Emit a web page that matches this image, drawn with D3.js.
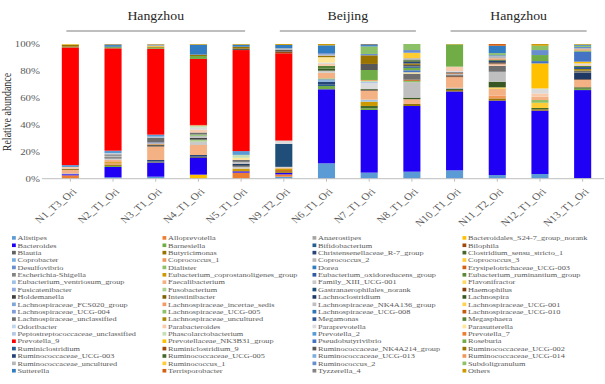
<!DOCTYPE html>
<html>
<head>
<meta charset="utf-8">
<script src="https://cdn.jsdelivr.net/npm/d3@7"></script>
<style>
  body { margin: 0; background: #fff; }
  svg text { font-family: "Liberation Serif", "Times New Roman", serif; }
</style>
</head>
<body>
<svg id="chart" width="605" height="384"></svg>
<script>
// samples along the x axis
const samples = ["N1_T3_Ori", "N2_T1_Ori", "N3_T1_Ori", "N4_T1_Ori", "N5_T1_Ori", "N9_T2_Ori", "N6_T1_Ori",
  "N7_T1_Ori", "N8_T1_Ori", "N10_T1_Ori", "N11_T2_Ori", "N12_T1_Ori", "N13_T1_Ori"];

// city groups drawn above the bars
const groupNames = ["Hangzhou", "Beijing", "Hangzhou"];
const groupFirst = ["N1_T3_Ori", "N9_T2_Ori", "N10_T1_Ori"];
const groupLast = ["N5_T1_Ori", "N8_T1_Ori", "N13_T1_Ori"];

const yTicks = [0, 0.2, 0.4, 0.6, 0.8, 1];

// genera, in legend and stacking order (first one at the bottom)
const taxa = ["Alistipes", "Alloprevotella", "Anaerostipes", "Bacteroidales_S24-7_group_norank",
  "Bacteroides", "Barnesiella", "Bifidobacterium", "Bilophila",
  "Blautia", "Butyricimonas", "Christensenellaceae_R-7_group", "Clostridium_sensu_stricto_1",
  "Coprobacter", "Coprococcus_1", "Coprococcus_2", "Coprococcus_3",
  "Desulfovibrio", "Dialister", "Dorea", "Erysipelotrichaceae_UCG-003",
  "Escherichia-Shigella", "Eubacterium_coprostanoligenes_group", "Eubacterium_oxidoreducens_group", "Eubacterium_ruminantium_group",
  "Eubacterium_ventriosum_group", "Faecalibacterium", "Family_XIII_UCG-001", "Flavonifractor",
  "Fusicatenibacter", "Fusobacterium", "Gastranaerophilales_norank", "Haemophilus",
  "Holdemanella", "Intestinibacter", "Lachnoclostridium", "Lachnospira",
  "Lachnospiraceae_FCS020_group", "Lachnospiraceae_incertae_sedis", "Lachnospiraceae_NK4A136_group", "Lachnospiraceae_UCG-001",
  "Lachnospiraceae_UCG-004", "Lachnospiraceae_UCG-005", "Lachnospiraceae_UCG-008", "Lachnospiraceae_UCG-010",
  "Lachnospiraceae_unclassified", "Lachnospiraceae_uncultured", "Megamonas", "Megasphaera",
  "Odoribacter", "Parabacteroides", "Paraprevotella", "Parasutterella",
  "Peptostreptococcaceae_unclassified", "Phascolarctobacterium", "Prevotella_2", "Prevotella_7",
  "Prevotella_9", "Prevotellaceae_NK3B31_group", "Pseudobutyrivibrio", "Roseburia",
  "Ruminiclostridium", "Ruminiclostridium_9", "Ruminococcaceae_NK4A214_group", "Ruminococcaceae_UCG-002",
  "Ruminococcaceae_UCG-003", "Ruminococcaceae_UCG-005", "Ruminococcaceae_UCG-013", "Ruminococcaceae_UCG-014",
  "Ruminococcaceae_uncultured", "Ruminococcus_1", "Ruminococcus_2", "Subdoligranulum",
  "Sutterella", "Terrisporobacter", "Tyzzerella_4", "Others"];

const taxaColors = ["#5B9BD5", "#ED7D31", "#A5A5A5", "#FFC000",
  "#1F00F5", "#70AD47", "#255E91", "#9E480E",
  "#636363", "#997300", "#264478", "#43682B",
  "#7CAFDD", "#F1975A", "#B7B7B7", "#FFCD33",
  "#698ED0", "#8CC168", "#327DC2", "#D26012",
  "#848484", "#CC9A00", "#335AA1", "#5A8A39",
  "#9DC3E6", "#F4B183", "#C9C9C9", "#FFD966",
  "#8FAADC", "#A9D18E", "#1F4E79", "#843C0C",
  "#404040", "#7F6000", "#203864", "#385723",
  "#7DA7D9", "#F19C64", "#BFBFBF", "#FFD24D",
  "#7F9ED9", "#8DC26B", "#2E75B6", "#C55A11",
  "#6E6E6E", "#A88600", "#2F5597", "#548235",
  "#BDD7EE", "#F8CBAD", "#DBDBDB", "#FFE699",
  "#B4C7E7", "#C5E0B4", "#5B9BD5", "#ED7D31",
  "#FF0000", "#FFC000", "#4472C4", "#70AD47",
  "#255E91", "#9E480E", "#585858", "#997300",
  "#264478", "#43682B", "#7CAFDD", "#F1975A",
  "#B7B7B7", "#FFCD33", "#698ED0", "#8CC168",
  "#327DC2", "#D26012", "#848484", "#CC9A00"];

// relative abundance (%) of each sample, genera not listed are 0
const N1_T3_Ori = [["Alloprevotella", 2.5], ["Bacteroides", 0.8], ["Desulfovibrio", 0.5], ["Faecalibacterium", 2.8],
  ["Intestinibacter", 0.8], ["Parabacteroides", 1.3], ["Prevotella_2", 1.4], ["Prevotella_9", 87.4],
  ["Roseburia", 0.5], ["Ruminococcaceae_UCG-002", 1.3], ["Ruminococcus_1", 0.4], ["Others", 0.3]];
const N2_T1_Ori = [["Alistipes", 1], ["Bacteroides", 7.7], ["Barnesiella", 0.8], ["Butyricimonas", 1],
  ["Coprococcus_1", 1], ["Eubacterium_coprostanoligenes_group", 0.8], ["Faecalibacterium", 1.8],
  ["Family_XIII_UCG-001", 1], ["Holdemanella", 0.8], ["Lachnospiraceae_NK4A136_group", 1.2],
  ["Lachnospiraceae_unclassified", 1], ["Paraprevotella", 0.8], ["Prevotella_2", 1.9], ["Prevotella_9", 76],
  ["Roseburia", 0.8], ["Ruminococcaceae_UCG-005", 0.4], ["Sutterella", 1.2], ["Tyzzerella_4", 0.6], ["Others", 0.2]];
const N3_T1_Ori = [["Alistipes", 1.5], ["Bacteroides", 10.4], ["Blautia", 1], ["Christensenellaceae_R-7_group", 1],
  ["Faecalibacterium", 10], ["Holdemanella", 1], ["Intestinibacter", 0.5], ["Lachnospiraceae_incertae_sedis", 0.7],
  ["Lachnospiraceae_UCG-004", 0.8], ["Lachnospiraceae_unclassified", 3.7], ["Odoribacter", 0.6], ["Prevotella_2", 1.5],
  ["Prevotella_9", 63.8], ["Roseburia", 0.8], ["Ruminococcaceae_UCG-002", 0.8], ["Ruminococcus_1", 0.7],
  ["Ruminococcus_2", 0.5], ["Tyzzerella_4", 0.4], ["Others", 0.3]];
const N4_T1_Ori = [["Bacteroidales_S24-7_group_norank", 3], ["Bacteroides", 12.4], ["Blautia", 1],
  ["Christensenellaceae_R-7_group", 1.2], ["Faecalibacterium", 7.4], ["Family_XIII_UCG-001", 2.5], ["Fusobacterium", 1.5],
  ["Holdemanella", 1.3], ["Lachnospiraceae_NK4A136_group", 1.5], ["Lachnospiraceae_UCG-005", 1],
  ["Lachnospiraceae_unclassified", 1.5], ["Parabacteroides", 2], ["Paraprevotella", 1.6], ["Phascolarctobacterium", 1.5],
  ["Prevotella_7", 0.5], ["Prevotella_9", 49], ["Roseburia", 2.2], ["Ruminococcaceae_UCG-002", 1],
  ["Sutterella", 7.4], ["Others", 0.5]];
const N5_T1_Ori = [["Alloprevotella", 4.5], ["Bacteroides", 1], ["Eubacterium_coprostanoligenes_group", 2],
  ["Family_XIII_UCG-001", 1.5], ["Holdemanella", 1], ["Lachnoclostridium", 1], ["Lachnospiraceae_NK4A136_group", 1.5],
  ["Lachnospiraceae_unclassified", 1.5], ["Parasutterella", 1.5], ["Phascolarctobacterium", 2.2], ["Prevotella_2", 2.8],
  ["Prevotella_9", 75], ["Ruminococcaceae_NK4A214_group", 1], ["Ruminococcaceae_UCG-002", 1.5],
  ["Sutterella", 1.5], ["Others", 0.5]];
const N9_T2_Ori = [["Alistipes", 1.5], ["Alloprevotella", 1.7], ["Bacteroides", 1.2], ["Butyricimonas", 1.2],
  ["Erysipelotrichaceae_UCG-003", 0.8], ["Eubacterium_coprostanoligenes_group", 1.2], ["Faecalibacterium", 0.6],
  ["Family_XIII_UCG-001", 0.6], ["Gastranaerophilales_norank", 17], ["Paraprevotella", 2.5], ["Prevotella_9", 64.8],
  ["Ruminiclostridium_9", 1.2], ["Ruminococcaceae_NK4A214_group", 1.5], ["Ruminococcaceae_uncultured", 1],
  ["Sutterella", 2.5], ["Others", 0.7]];
const N6_T1_Ori = [["Alistipes", 11.4], ["Bacteroides", 55], ["Barnesiella", 2.4], ["Bifidobacterium", 1],
  ["Christensenellaceae_R-7_group", 2.2], ["Coprobacter", 1], ["Desulfovibrio", 0.8], ["Dialister", 0.7],
  ["Faecalibacterium", 4.2], ["Family_XIII_UCG-001", 1.5], ["Lachnospira", 1.5], ["Megasphaera", 2],
  ["Parabacteroides", 1.5], ["Paraprevotella", 1], ["Parasutterella", 4], ["Ruminococcaceae_UCG-002", 1],
  ["Ruminococcaceae_uncultured", 1], ["Ruminococcus_2", 1], ["Sutterella", 5.8], ["Others", 1]];
const N7_T1_Ori = [["Alistipes", 4.5], ["Bacteroides", 46.5], ["Barnesiella", 1.2], ["Clostridium_sensu_stricto_1", 1.8],
  ["Eubacterium_coprostanoligenes_group", 3.2], ["Eubacterium_ventriosum_group", 1.5], ["Faecalibacterium", 6.5],
  ["Haemophilus", 0.4], ["Holdemanella", 0.5], ["Lachnospira", 0.5], ["Paraprevotella", 4.2],
  ["Peptostreptococcaceae_unclassified", 1], ["Phascolarctobacterium", 1], ["Prevotella_7", 0.5], ["Roseburia", 7.4],
  ["Ruminococcaceae_NK4A214_group", 4.5], ["Ruminococcaceae_UCG-002", 6.4], ["Ruminococcus_2", 1],
  ["Subdoligranulum", 5.6], ["Sutterella", 1], ["Tyzzerella_4", 0.8]];
const N8_T1_Ori = [["Alistipes", 5.2], ["Bacteroides", 48.8], ["Butyricimonas", 1.5], ["Faecalibacterium", 3.5],
  ["Lachnospira", 1.2], ["Lachnospiraceae_NK4A136_group", 11.5], ["Lachnospiraceae_UCG-005", 1],
  ["Lachnospiraceae_UCG-010", 0.8], ["Lachnospiraceae_unclassified", 4.5], ["Parasutterella", 1],
  ["Pseudobutyrivibrio", 1.5], ["Roseburia", 1.8], ["Ruminiclostridium", 1], ["Ruminococcaceae_NK4A214_group", 1.2],
  ["Ruminococcaceae_UCG-002", 1.1], ["Ruminococcaceae_UCG-003", 1.2], ["Ruminococcaceae_UCG-005", 1.2],
  ["Ruminococcaceae_uncultured", 1.5], ["Ruminococcus_1", 4], ["Ruminococcus_2", 2], ["Subdoligranulum", 4.5]];
const N10_T1_Ori = [["Alistipes", 6.2], ["Bacteroides", 58.6], ["Butyricimonas", 1], ["Clostridium_sensu_stricto_1", 0.8],
  ["Coprococcus_2", 0.9], ["Faecalibacterium", 7.9], ["Haemophilus", 0.6], ["Holdemanella", 0.8],
  ["Lachnospiraceae_NK4A136_group", 1], ["Lachnospiraceae_UCG-010", 0.5], ["Lachnospiraceae_unclassified", 0.8],
  ["Odoribacter", 0.6], ["Parabacteroides", 3.5], ["Roseburia", 16.5], ["Others", 0.3]];
const N11_T2_Ori = [["Alistipes", 2.7], ["Bacteroides", 55.3], ["Butyricimonas", 1.6], ["Coprococcus_1", 2],
  ["Faecalibacterium", 5], ["Flavonifractor", 1.2], ["Lachnospira", 4.2], ["Lachnospiraceae_NK4A136_group", 7.4],
  ["Lachnospiraceae_unclassified", 4.3], ["Parabacteroides", 1.3], ["Ruminiclostridium_9", 0.6],
  ["Ruminococcaceae_NK4A214_group", 1], ["Ruminococcaceae_UCG-003", 1], ["Ruminococcaceae_UCG-005", 0.7],
  ["Ruminococcaceae_UCG-014", 1], ["Ruminococcaceae_uncultured", 1.6], ["Ruminococcus_2", 0.8],
  ["Subdoligranulum", 1.5], ["Sutterella", 5.5], ["Terrisporobacter", 1.3]];
const N12_T1_Ori = [["Alistipes", 3.5], ["Bacteroides", 47], ["Butyricimonas", 1], ["Clostridium_sensu_stricto_1", 1],
  ["Coprococcus_3", 3.9], ["Dialister", 2], ["Faecalibacterium", 2.5], ["Parabacteroides", 2.4], ["Paraprevotella", 3.7],
  ["Prevotellaceae_NK3B31_group", 18.6], ["Pseudobutyrivibrio", 1.7], ["Roseburia", 4.5], ["Ruminococcus_2", 3.7],
  ["Subdoligranulum", 3.2], ["Others", 1.3]];
const N13_T1_Ori = [["Alistipes", 0.3], ["Bacteroides", 65.5], ["Barnesiella", 1], ["Clostridium_sensu_stricto_1", 1.1],
  ["Faecalibacterium", 5.4], ["Haemophilus", 0.5], ["Lachnoclostridium", 4.9], ["Lachnospiraceae_unclassified", 1.5],
  ["Lachnospiraceae_uncultured", 1.2], ["Megamonas", 1.5], ["Megasphaera", 0.8], ["Parabacteroides", 0.7],
  ["Paraprevotella", 1.2], ["Prevotellaceae_NK3B31_group", 1.3], ["Pseudobutyrivibrio", 7.4], ["Roseburia", 0.8],
  ["Ruminococcaceae_UCG-014", 1], ["Ruminococcaceae_uncultured", 0.8], ["Ruminococcus_2", 0.9],
  ["Subdoligranulum", 0.9], ["Sutterella", 0.8], ["Others", 0.5]];

const sampleValues = [N1_T3_Ori, N2_T1_Ori, N3_T1_Ori, N4_T1_Ori, N5_T1_Ori, N9_T2_Ori, N6_T1_Ori,
  N7_T1_Ori, N8_T1_Ori, N10_T1_Ori, N11_T2_Ori, N12_T1_Ori, N13_T1_Ori];

// one row per sample, every genus as a column
const rows = samples.map((s, i) => {
  const r = { sample: s };
  taxa.forEach(t => r[t] = 0);
  sampleValues[i].forEach(([t, v]) => r[t] = v);
  return r;
});

const svg = d3.select("#chart");
const textColor = "#595959";
const sx = 1.2; // the picture is slightly wider than tall, text too

const x = d3.scaleBand().domain(samples).range([49, 604]).paddingInner(0.6).paddingOuter(0.3);
const y = d3.scaleLinear().domain([0, 1]).range([178.7, 44]);
const color = d3.scaleOrdinal().domain(taxa).range(taxaColors);

const series = d3.stack().keys(taxa).offset(d3.stackOffsetExpand)(rows);

// stacked bars
svg.append("g").selectAll("g")
  .data(series)
  .join("g")
    .attr("fill", d => color(d.key))
  .selectAll("rect")
  .data(d => d)
  .join("rect")
    .attr("x", d => x(d.data.sample))
    .attr("y", d => y(d[1]))
    .attr("width", x.bandwidth())
    .attr("height", d => Math.max(0, y(d[0]) - y(d[1])));

// x axis line + ticks
svg.append("line")
  .attr("x1", 42).attr("x2", 604)
  .attr("y1", y(0)).attr("y2", y(0))
  .attr("stroke", "#BFBFBF").attr("stroke-width", 1);

svg.append("g").selectAll("line")
  .data(samples)
  .join("line")
    .attr("x1", d => x(d) + x.bandwidth() / 2)
    .attr("x2", d => x(d) + x.bandwidth() / 2)
    .attr("y1", y(0)).attr("y2", y(0) + 3)
    .attr("stroke", "#BFBFBF");

// sample labels, rotated
svg.append("g").selectAll("text")
  .data(samples)
  .join("text")
    .attr("transform", d => `translate(${x(d) + x.bandwidth() / 2 + 4},190) scale(${sx},1) rotate(-45)`)
    .attr("text-anchor", "end")
    .attr("dy", "0.35em")
    .attr("font-size", 9.5)
    .attr("fill", textColor)
    .text(d => d);

// y tick labels
svg.append("g").selectAll("text")
  .data(yTicks)
  .join("text")
    .attr("transform", d => `translate(40,${y(d)}) scale(${sx},1)`)
    .attr("text-anchor", "end")
    .attr("dy", "0.35em")
    .attr("font-size", 9)
    .attr("fill", textColor)
    .text(d3.format(".0%"));

// y axis title
svg.append("text")
  .attr("transform", `translate(11,112) scale(${sx},1) rotate(-90)`)
  .attr("text-anchor", "middle")
  .attr("font-size", 10)
  .attr("fill", "#262626")
  .text("Relative abundance");

// city groups on top
const groups = groupNames.map((name, i) => ({
  name: name,
  x1: x(groupFirst[i]) + x.bandwidth() / 2 - 4,
  x2: x(groupLast[i]) + x.bandwidth() / 2 + 4
}));

svg.append("g").selectAll("line")
  .data(groups)
  .join("line")
    .attr("x1", d => d.x1).attr("x2", d => d.x2)
    .attr("y1", 31).attr("y2", 31)
    .attr("stroke", "#7F7F7F").attr("stroke-width", 1.2);

svg.append("g").selectAll("text")
  .data(groups)
  .join("text")
    .attr("transform", d => `translate(${(d.x1 + d.x2) / 2},20) scale(${sx},1)`)
    .attr("text-anchor", "middle")
    .attr("font-size", 11.5)
    .attr("fill", "#262626")
    .text(d => d.name);

// legend: 4 columns, filled row by row
const legendCols = [12, 162.5, 312.5, 462.5];
const legend = svg.append("g").selectAll("g")
  .data(taxa)
  .join("g")
    .attr("transform", (d, i) => `translate(${legendCols[i % 4]},${237.9 + Math.floor(i / 4) * 7.38})`);

legend.append("rect")
  .attr("x", 0).attr("y", -1.8)
  .attr("width", 3.8).attr("height", 3.6)
  .attr("fill", d => color(d));

legend.append("text")
  .attr("transform", `translate(5.5,0) scale(${sx},1)`)
  .attr("dy", "0.33em")
  .attr("font-size", 6.9)
  .attr("fill", textColor)
  .text(d => d);
</script>
</body>
</html>
